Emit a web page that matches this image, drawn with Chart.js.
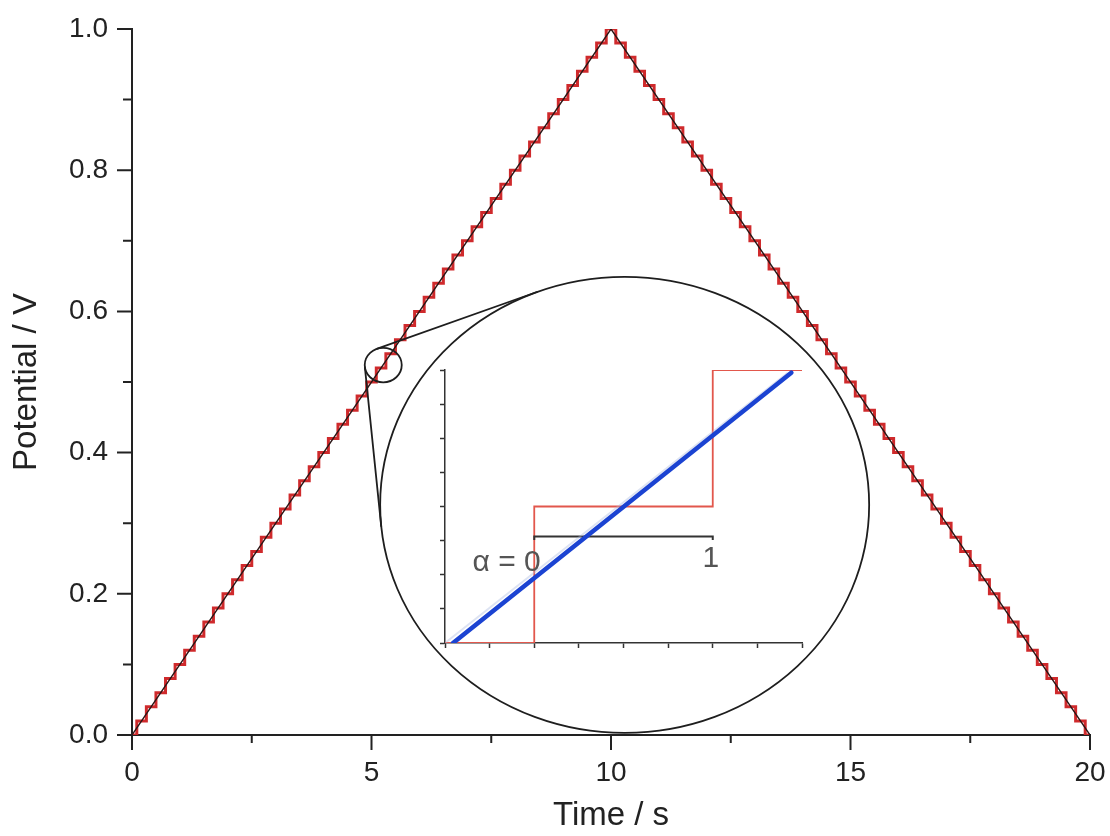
<!DOCTYPE html>
<html lang="en">
<head>
<meta charset="UTF-8">
<title>Staircase potential sweep</title>
<script src="https://cdn.jsdelivr.net/npm/chart.js"></script>
<style>
  html, body { margin: 0; padding: 0; background: #fff; }
  #wrap { position: relative; width: 1110px; height: 836px; }
  #mainChart { position: absolute; left: 0; top: 0; }
  #zoomChart { position: absolute; left: 420px; top: 350px; }
</style>
</head>
<body>
<div id="wrap">
  <canvas id="mainChart" width="1110" height="836"></canvas>
  <canvas id="zoomChart" width="400" height="310"></canvas>
</div>
<script>
// linear triangular sweep 0 V -> 1 V -> 0 V
const sweepTime = [0, 10, 20];
const sweepPotential = [0, 1, 0];

// staircase actually applied: 20 mV every 0.2 s
const stairTime = [
  0, 0.2, 0.4, 0.6, 0.8, 1, 1.2, 1.4, 1.6, 1.8,
  2, 2.2, 2.4, 2.6, 2.8, 3, 3.2, 3.4, 3.6, 3.8,
  4, 4.2, 4.4, 4.6, 4.8, 5, 5.2, 5.4, 5.6, 5.8,
  6, 6.2, 6.4, 6.6, 6.8, 7, 7.2, 7.4, 7.6, 7.8,
  8, 8.2, 8.4, 8.6, 8.8, 9, 9.2, 9.4, 9.6, 9.8,
  10, 10.2, 10.4, 10.6, 10.8, 11, 11.2, 11.4, 11.6, 11.8,
  12, 12.2, 12.4, 12.6, 12.8, 13, 13.2, 13.4, 13.6, 13.8,
  14, 14.2, 14.4, 14.6, 14.8, 15, 15.2, 15.4, 15.6, 15.8,
  16, 16.2, 16.4, 16.6, 16.8, 17, 17.2, 17.4, 17.6, 17.8,
  18, 18.2, 18.4, 18.6, 18.8, 19, 19.2, 19.4, 19.6, 19.8,
  20
];
const stairPotential = [
  0, 0.02, 0.04, 0.06, 0.08, 0.1, 0.12, 0.14, 0.16, 0.18,
  0.2, 0.22, 0.24, 0.26, 0.28, 0.3, 0.32, 0.34, 0.36, 0.38,
  0.4, 0.42, 0.44, 0.46, 0.48, 0.5, 0.52, 0.54, 0.56, 0.58,
  0.6, 0.62, 0.64, 0.66, 0.68, 0.7, 0.72, 0.74, 0.76, 0.78,
  0.8, 0.82, 0.84, 0.86, 0.88, 0.9, 0.92, 0.94, 0.96, 0.98,
  1, 0.98, 0.96, 0.94, 0.92, 0.9, 0.88, 0.86, 0.84, 0.82,
  0.8, 0.78, 0.76, 0.74, 0.72, 0.7, 0.68, 0.66, 0.64, 0.62,
  0.6, 0.58, 0.56, 0.54, 0.52, 0.5, 0.48, 0.46, 0.44, 0.42,
  0.4, 0.38, 0.36, 0.34, 0.32, 0.3, 0.28, 0.26, 0.24, 0.22,
  0.2, 0.18, 0.16, 0.14, 0.12, 0.1, 0.08, 0.06, 0.04, 0.02,
  0
];

const xMajorTicks = [0, 5, 10, 15, 20];
const xMinorTicks = [2.5, 7.5, 12.5, 17.5];
const yMajorTicks = [0, 0.2, 0.4, 0.6, 0.8, 1.0];
const yMinorTicks = [0.1, 0.3, 0.5, 0.7, 0.9];

// close-up of a single step (arbitrary units)
const stepX = [0, 1, 2];
const stepY = [0, 1, 2];
const rampX = [0.045, 1.94];
const rampY = [0, 1.98];
const rampShadeX = [0, 1.92];
const rampShadeY = [0, 1.98];
const alphaBarX = [0.5, 0.5, 1.5, 1.5];
const alphaBarY = [0.755, 0.78, 0.78, 0.755];
const alphaLabels = ['α = 0', '1'];
const alphaLabelX = [0.49, 1.49];
const alphaLabelY = [0.59, 0.62];

const FONT = "'Liberation Sans', Arial, sans-serif";
const INK = '#222';

function pts(xs, ys) {
  return xs.map((x, i) => ({ x: x, y: ys[i] }));
}

// fixed scale size, no extra room reserved for overhanging labels
function fixSize(w, h) {
  return s => {
    if (w !== null) s.width = w;
    if (h !== null) s.height = h;
    s.paddingTop = 0;
    s.paddingBottom = 0;
    s.paddingLeft = 0;
    s.paddingRight = 0;
  };
}

// magnifier: small ring on the sweep, big ring holding the close-up
const lens = {
  small: { t: 5.245, v: 0.524, rx: 18.5 },
  big: { t: 10.285, v: 0.326, rx: 244.5, ry: 228 }
};

// outer tangents of two circles, returns pairs of touching points
function outerTangents(c1, r1, c2, r2) {
  const dx = c2.x - c1.x, dy = c2.y - c1.y;
  const d = Math.hypot(dx, dy);
  const ux = dx / d, uy = dy / d;
  const cos = (r2 - r1) / d, sin = Math.sqrt(1 - cos * cos);
  return [1, -1].map(s => {
    const nx = cos * ux - s * sin * uy;
    const ny = cos * uy + s * sin * ux;
    return [
      { x: c1.x - r1 * nx, y: c1.y - r1 * ny },
      { x: c2.x - r2 * nx, y: c2.y - r2 * ny }
    ];
  });
}

const axisDecor = {
  id: 'axisDecor',
  afterDraw(chart) {
    const ctx = chart.ctx;
    const xs = chart.scales.x, ys = chart.scales.y;
    const bottom = chart.chartArea.bottom, left = chart.chartArea.left;
    ctx.save();
    ctx.strokeStyle = INK;
    ctx.lineWidth = 2;
    ctx.beginPath();
    xMajorTicks.forEach(v => { const p = xs.getPixelForValue(v); ctx.moveTo(p, bottom); ctx.lineTo(p, bottom + 15); });
    xMinorTicks.forEach(v => { const p = xs.getPixelForValue(v); ctx.moveTo(p, bottom); ctx.lineTo(p, bottom + 8); });
    yMajorTicks.forEach(v => { const p = ys.getPixelForValue(v); ctx.moveTo(left, p); ctx.lineTo(left - 15, p); });
    yMinorTicks.forEach(v => { const p = ys.getPixelForValue(v); ctx.moveTo(left, p); ctx.lineTo(left - 9, p); });
    ctx.stroke();

    // magnifier rings and the two connecting lines
    const k = lens.big.rx / lens.big.ry;
    const s = { x: xs.getPixelForValue(lens.small.t), y: ys.getPixelForValue(lens.small.v) };
    const b = { x: xs.getPixelForValue(lens.big.t), y: ys.getPixelForValue(lens.big.v) };
    ctx.strokeStyle = '#1e1e1e';
    ctx.lineWidth = 1.8;
    ctx.beginPath();
    ctx.ellipse(s.x, s.y, lens.small.rx, lens.small.rx / k, 0, 0, Math.PI * 2);
    ctx.stroke();
    ctx.beginPath();
    ctx.ellipse(b.x, b.y, lens.big.rx, lens.big.ry, 0, 0, Math.PI * 2);
    ctx.stroke();
    const lines = outerTangents({ x: s.x, y: s.y * k }, lens.small.rx, { x: b.x, y: b.y * k }, lens.big.rx);
    ctx.beginPath();
    lines.forEach(([p, q]) => { ctx.moveTo(p.x, p.y / k); ctx.lineTo(q.x, q.y / k); });
    ctx.stroke();
    ctx.restore();
  }
};

new Chart(document.getElementById('mainChart'), {
  type: 'line',
  data: {
    datasets: [
      {
        data: pts(sweepTime, sweepPotential),
        borderColor: '#2a1616',
        borderWidth: 1.4,
        pointRadius: 0
      },
      {
        data: pts(stairTime, stairPotential),
        stepped: 'middle',
        borderColor: '#cf2a2c',
        borderWidth: 3,
        pointRadius: 0
      }
    ]
  },
  options: {
    responsive: false,
    devicePixelRatio: 1,
    animation: false,
    layout: { padding: { left: 0, right: 20, top: 29, bottom: 0 } },
    plugins: { legend: { display: false }, tooltip: { enabled: false } },
    scales: {
      x: {
        type: 'linear', min: 0, max: 20,
        grid: { display: false, drawTicks: false },
        border: { color: INK, width: 2 },
        ticks: { stepSize: 5, padding: 21, color: INK, font: { family: FONT, size: 28 } },
        title: { display: true, text: 'Time / s', color: INK, padding: { top: 0, bottom: 0 }, font: { family: FONT, size: 33 } },
        afterFit: fixSize(null, 101)
      },
      y: {
        type: 'linear', min: 0, max: 1,
        grid: { display: false, drawTicks: false },
        border: { color: INK, width: 2 },
        ticks: { stepSize: 0.2, padding: 24, color: INK, font: { family: FONT, size: 28 }, callback: v => v.toFixed(1) },
        title: { display: true, text: 'Potential / V', color: INK, padding: { top: 7, bottom: 0 }, font: { family: FONT, size: 33 } },
        afterFit: fixSize(132, null)
      }
    }
  },
  plugins: [axisDecor]
});

const alphaText = {
  id: 'alphaText',
  afterDatasetsDraw(chart) {
    const ctx = chart.ctx;
    const xs = chart.scales.x, ys = chart.scales.y;
    ctx.save();
    ctx.font = '30px ' + FONT;
    ctx.fillStyle = '#555';
    ctx.textBaseline = 'middle';
    const zeroW = ctx.measureText('0').width;
    ctx.textAlign = 'right';
    ctx.fillText(alphaLabels[0], xs.getPixelForValue(alphaLabelX[0]) + zeroW / 2, ys.getPixelForValue(alphaLabelY[0]));
    ctx.textAlign = 'center';
    ctx.fillText(alphaLabels[1], xs.getPixelForValue(alphaLabelX[1]), ys.getPixelForValue(alphaLabelY[1]));
    ctx.restore();
  }
};

const closeAxis = {
  type: 'linear', min: 0, max: 2,
  ticks: { display: false, stepSize: 0.25 },
  grid: { drawOnChartArea: false, tickLength: 5, tickColor: '#333', tickWidth: 1.5 },
  border: { color: '#333', width: 1.5 }
};

new Chart(document.getElementById('zoomChart'), {
  type: 'line',
  data: {
    datasets: [
      { data: pts(rampX, rampY), borderColor: '#1b43d2', borderWidth: 4.5, borderCapStyle: 'round', pointRadius: 0 },
      { data: pts(rampShadeX, rampShadeY), borderColor: 'rgba(170,185,222,0.4)', borderWidth: 2, pointRadius: 0 },
      { data: pts(alphaBarX, alphaBarY), borderColor: '#333', borderWidth: 2, pointRadius: 0 },
      { data: pts(stepX, stepY), stepped: 'middle', borderColor: '#e2574c', borderWidth: 1.8, pointRadius: 0 }
    ]
  },
  options: {
    responsive: false,
    devicePixelRatio: 1,
    animation: false,
    layout: { padding: { left: 0, right: 18, top: 20, bottom: 0 } },
    plugins: { legend: { display: false }, tooltip: { enabled: false } },
    scales: {
      x: Object.assign({}, closeAxis, { afterFit: fixSize(null, 17) }),
      y: Object.assign({}, closeAxis, { afterFit: fixSize(25, null) })
    }
  },
  plugins: [alphaText]
});
</script>
</body>
</html>
